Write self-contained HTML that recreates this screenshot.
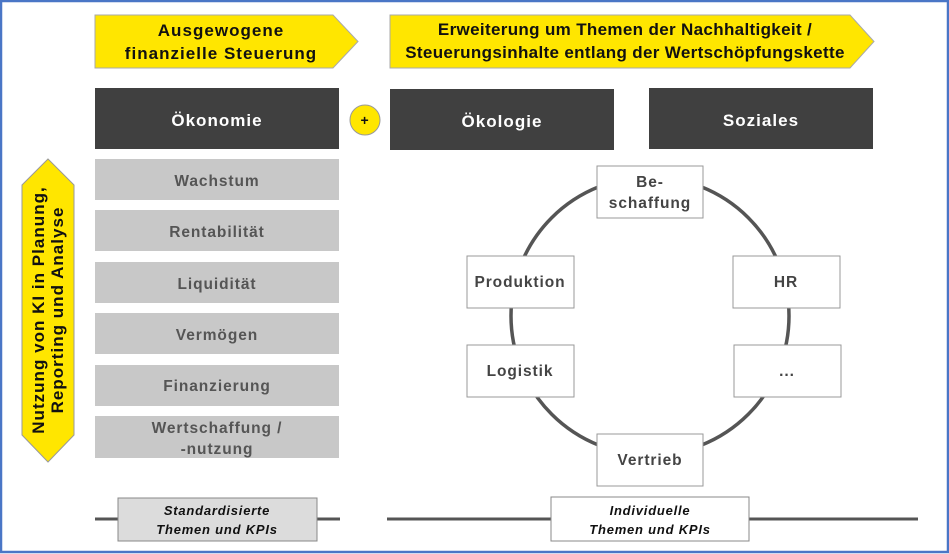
<!DOCTYPE html>
<html><head><meta charset="utf-8"><style>
html,body{margin:0;padding:0;background:#fff}
svg{display:block}
text{font-family:"Liberation Sans",Arial,sans-serif;font-weight:bold;letter-spacing:0.06em}
</style></head><body>
<svg width="949" height="554" viewBox="0 0 949 554" xmlns="http://www.w3.org/2000/svg">
<rect x="1" y="1" width="947" height="551" fill="#fff" stroke="#4a76c6" stroke-width="2.5"/>
<polygon points="95,15 333,15 358,41.5 333,68 95,68" fill="#ffe600" stroke="#a9a9a9" stroke-width="1"/>
<text x="221" y="36" font-size="17" text-anchor="middle" fill="#111">Ausgewogene</text>
<text x="221" y="59" font-size="17" text-anchor="middle" fill="#111">finanzielle Steuerung</text>
<polygon points="390,15 850,15 874,41.5 850,68 390,68" fill="#ffe600" stroke="#a9a9a9" stroke-width="1"/>
<text x="625" y="35" font-size="17" text-anchor="middle" fill="#111" style="letter-spacing:0.02em">Erweiterung um Themen der Nachhaltigkeit /</text>
<text x="625" y="58" font-size="17" text-anchor="middle" fill="#111" style="letter-spacing:0.02em">Steuerungsinhalte entlang der Wertschöpfungskette</text>
<rect x="95" y="88" width="244" height="61" fill="#404040"/>
<text x="217" y="126" font-size="17" text-anchor="middle" fill="#fff">Ökonomie</text>
<rect x="390" y="89" width="224" height="61" fill="#404040"/>
<text x="502" y="127" font-size="17" text-anchor="middle" fill="#fff">Ökologie</text>
<rect x="649" y="88" width="224" height="61" fill="#404040"/>
<text x="761" y="126" font-size="17" text-anchor="middle" fill="#fff">Soziales</text>
<circle cx="365" cy="120" r="15" fill="#ffe600" stroke="#999" stroke-width="1"/>
<text x="365" y="125" font-size="14" text-anchor="middle" fill="#111">+</text>
<g fill="#c8c8c8">
<rect x="95" y="159" width="244" height="41"/>
<rect x="95" y="210" width="244" height="41"/>
<rect x="95" y="262" width="244" height="41"/>
<rect x="95" y="313" width="244" height="41"/>
<rect x="95" y="365" width="244" height="41"/>
<rect x="95" y="416" width="244" height="42"/>
</g>
<g font-size="15.5" text-anchor="middle" fill="#555">
<text x="217" y="186">Wachstum</text>
<text x="217" y="237">Rentabilität</text>
<text x="217" y="289">Liquidität</text>
<text x="217" y="340">Vermögen</text>
<text x="217" y="391">Finanzierung</text>
<text x="217" y="433">Wertschaffung /</text>
<text x="217" y="454">-nutzung</text>
</g>
<polygon points="48,159 74,185 74,435 48,462 22,435 22,185" fill="#ffe600" stroke="#999" stroke-width="1"/>
<g transform="translate(48,310) rotate(-90)">
<text x="0" y="-4" font-size="17" text-anchor="middle" fill="#111">Nutzung  von KI in Planung,</text>
<text x="0" y="15" font-size="17" text-anchor="middle" fill="#111">Reporting und Analyse</text>
</g>
<circle cx="650" cy="316" r="139" fill="none" stroke="#555" stroke-width="3.5"/>
<g fill="#fff" stroke="#999" stroke-width="1">
<rect x="597" y="166" width="106" height="52"/>
<rect x="467" y="256" width="107" height="52"/>
<rect x="733" y="256" width="107" height="52"/>
<rect x="467" y="345" width="107" height="52"/>
<rect x="734" y="345" width="107" height="52"/>
<rect x="597" y="434" width="106" height="52"/>
</g>
<g font-size="15.5" text-anchor="middle" fill="#444">
<text x="650" y="187">Be-</text>
<text x="650" y="208">schaffung</text>
<text x="520" y="287">Produktion</text>
<text x="786" y="287">HR</text>
<text x="520" y="376">Logistik</text>
<text x="787" y="376">...</text>
<text x="650" y="465">Vertrieb</text>
</g>
<line x1="95" y1="519" x2="340" y2="519" stroke="#555" stroke-width="3"/>
<line x1="387" y1="519" x2="918" y2="519" stroke="#555" stroke-width="3"/>
<rect x="118" y="498" width="199" height="43" fill="#dcdcdc" stroke="#888" stroke-width="1"/>
<rect x="551" y="497" width="198" height="44" fill="#fff" stroke="#888" stroke-width="1"/>
<g font-size="13" font-style="italic" text-anchor="middle" fill="#111">
<text x="217" y="515">Standardisierte</text>
<text x="217" y="534">Themen und KPIs</text>
<text x="650" y="515">Individuelle</text>
<text x="650" y="534">Themen und KPIs</text>
</g>
</svg>
</body></html>
